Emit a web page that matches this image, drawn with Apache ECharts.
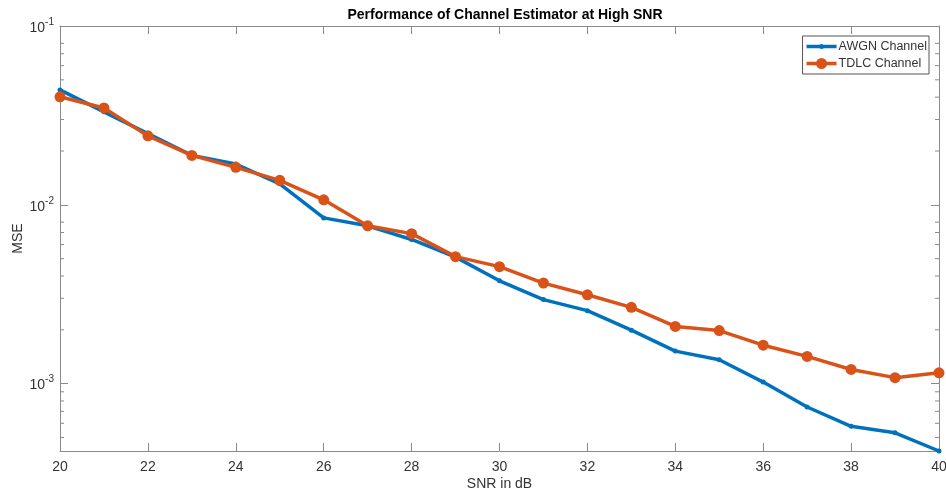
<!DOCTYPE html>
<html>
<head>
<meta charset="utf-8">
<script src="https://cdn.jsdelivr.net/npm/echarts@6/dist/echarts.min.js"></script>
<style>html,body{margin:0;padding:0;background:#fff}#c{width:946px;height:493px}</style>
</head>
<body>
<div id="c"></div>
<script>
const snr = [20,21,22,23,24,25,26,27,28,29,30,31,32,33,34,35,36,37,38,39,40];
const awgn = [0.0439,0.0331,0.0250,0.0189,0.0169,0.0131,0.00845,0.00763,0.00640,0.00510,0.00376,0.00295,0.00256,0.00199,0.00152,0.00136,0.00102,0.00074,0.000577,0.000531,0.00042];
const tdlc = [0.0402,0.0348,0.0243,0.0189,0.0162,0.0137,0.01066,0.00763,0.00690,0.00513,0.00451,0.00365,0.00314,0.00267,0.00209,0.00198,0.00164,0.00142,0.00120,0.00108,0.00115];
const seriesNames = ['AWGN Channel','TDLC Channel'];
const xTicks = {min:20, max:40, interval:2};
const yRange = {min:0.00042, max:0.1};
const minorTickValues = [0.08,0.07,0.06,0.05,0.04,0.03,0.02,0.008,0.007,0.006,0.005,0.004,0.003,0.002,0.0009,0.0008,0.0007,0.0006,0.0005];

const FONT = 'Liberation Sans, Arial, Helvetica, sans-serif';
const AX = '#8a8a8a';
const TXT = '#333333';

function expLabel(v){
  const e = Math.log10(v);
  const r = Math.round(e);
  if (Math.abs(e - r) > 1e-6) return '';
  return '{b|10}{s|' + r + '}';
}

const iconBlue = 'path://M0,0 M30,11 M0,3.75 L30,3.75 L30,7.25 L0,7.25 Z M12.5,5.5 A2.5,2.5 0 1,1 17.5,5.5 A2.5,2.5 0 1,1 12.5,5.5 Z';
const iconOrange = 'path://M0,0 M30,11 M0,3.75 L30,3.75 L30,7.25 L0,7.25 Z M9.5,5.5 A5.5,5.5 0 1,1 20.5,5.5 A5.5,5.5 0 1,1 9.5,5.5 Z';

const chart = echarts.init(document.getElementById('c'), null, {renderer:'canvas'});
const minorData = minorTickValues.map(v => [xTicks.min, v]);

chart.setOption({
  animation:false,
  backgroundColor:'#fff',
  textStyle:{fontFamily:FONT},
  title:{
    text:'Performance of Channel Estimator at High SNR',
    left:500, top:3, textAlign:'center',
    textStyle:{fontSize:14, fontWeight:'bold', color:'#000', fontFamily:FONT}
  },
  legend:{
    data:[{name:seriesNames[0], icon:iconBlue},{name:seriesNames[1], icon:iconOrange}],
    orient:'vertical',
    right:17, top:36,
    backgroundColor:'#fff',
    borderColor:'#555', borderWidth:1,
    padding:[4,2,4,4],
    itemGap:4,
    itemWidth:30, itemHeight:11,
    itemStyle:{borderWidth:0},
    textStyle:{fontSize:12.5, color:TXT, fontFamily:FONT, padding:[0,0,0,-3]}
  },
  grid:{left:60, right:7, top:26, bottom:42, containLabel:false, outerBoundsMode:'none'},
  xAxis:[{
    type:'value', position:'bottom',
    min:xTicks.min, max:xTicks.max, interval:xTicks.interval,
    name:'SNR in dB', nameLocation:'middle', nameGap:26, nameMoveOverlap:false,
    nameTextStyle:{fontSize:14, color:TXT, fontFamily:FONT},
    axisLine:{show:true, lineStyle:{color:AX, width:1}},
    axisTick:{show:true, inside:true, length:8, lineStyle:{color:AX}},
    axisLabel:{fontSize:14, color:TXT, margin:9, fontFamily:FONT},
    splitLine:{show:false}
  },{
    type:'value', position:'top',
    min:xTicks.min, max:xTicks.max, interval:xTicks.interval,
    axisLine:{show:true, lineStyle:{color:AX, width:1}},
    axisTick:{show:true, inside:true, length:8, lineStyle:{color:AX}},
    axisLabel:{show:false},
    splitLine:{show:false}
  }],
  yAxis:[{
    type:'log', logBase:10, position:'left',
    min:yRange.min, max:yRange.max,
    name:'MSE', nameLocation:'middle', nameGap:35, nameMoveOverlap:false,
    nameTextStyle:{fontSize:14, color:TXT, fontFamily:FONT},
    axisLine:{show:true, lineStyle:{color:AX, width:1}},
    axisTick:{show:true, inside:true, length:8, lineStyle:{color:AX}},
    axisLabel:{
      color:TXT, margin:6, formatter:expLabel,
      rich:{
        b:{fontSize:14, color:TXT, fontFamily:FONT, verticalAlign:'bottom', lineHeight:18},
        s:{fontSize:10, color:TXT, fontFamily:FONT, verticalAlign:'top', lineHeight:18, padding:[0,0,6,0]}
      }
    },
    splitLine:{show:false}
  },{
    type:'log', logBase:10, position:'right',
    min:yRange.min, max:yRange.max,
    axisLine:{show:true, lineStyle:{color:AX, width:1}},
    axisTick:{show:true, inside:true, length:8, lineStyle:{color:AX}},
    axisLabel:{show:false},
    splitLine:{show:false}
  }],
  series:[{
    name:seriesNames[0], type:'line',
    data:snr.map((x,i)=>[x, awgn[i]]),
    xAxisIndex:0, yAxisIndex:0,
    lineStyle:{color:'#0072BD', width:3.5},
    itemStyle:{color:'#0072BD'},
    symbol:'circle', symbolSize:5, showSymbol:true,
    z:3
  },{
    name:seriesNames[1], type:'line',
    data:snr.map((x,i)=>[x, tdlc[i]]),
    xAxisIndex:0, yAxisIndex:0,
    lineStyle:{color:'#D95319', width:3.5},
    itemStyle:{color:'#D95319'},
    symbol:'circle', symbolSize:11, showSymbol:true,
    z:4
  },{
    name:'minorTicks', type:'custom',
    xAxisIndex:0, yAxisIndex:0,
    silent:true, z:1,
    data:minorData,
    renderItem:function(params, api){
      const yv = api.value(1);
      const pL = api.coord([xTicks.min, yv]);
      const pR = api.coord([xTicks.max, yv]);
      const st = {stroke:AX, lineWidth:1};
      return {type:'group', children:[
        {type:'line', shape:{x1:pL[0], y1:pL[1], x2:pL[0]+4, y2:pL[1]}, style:st},
        {type:'line', shape:{x1:pR[0], y1:pR[1], x2:pR[0]-4, y2:pR[1]}, style:st}
      ]};
    }
  }]
});
</script>
</body>
</html>
